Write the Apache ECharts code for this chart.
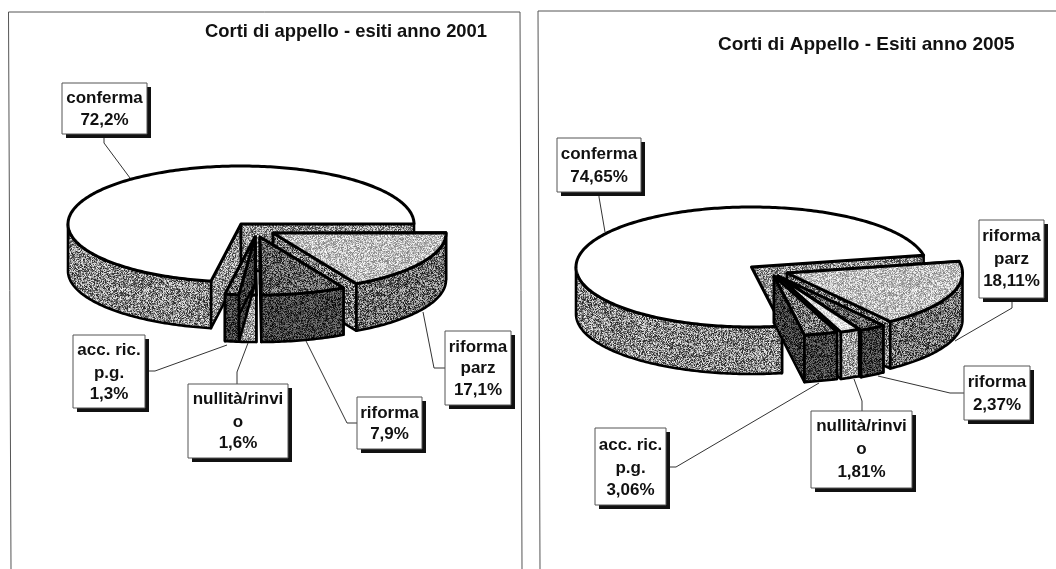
<!DOCTYPE html>
<html><head><meta charset="utf-8">
<style>html,body{margin:0;padding:0;background:#fff}#c{width:1056px;height:569px}</style>
<script src="https://cdn.jsdelivr.net/npm/echarts@6/dist/echarts.min.js"></script>
</head><body><div id="c"></div>
<script>
// ---------- data ----------
const categories = ['conferma', 'riforma parz', 'riforma', 'nullità/rinvio', 'acc. ric. p.g.'];
const values2001 = [72.2, 17.1, 7.9, 1.6, 1.3];
const values2005 = [74.65, 18.11, 2.37, 1.81, 3.06];
const labelLines = [['conferma'], ['riforma', 'parz'], ['riforma'], ['nullità/rinvi', 'o'], ['acc. ric.', 'p.g.']];
const title2001 = 'Corti di appello - esiti anno 2001';
const title2005 = 'Corti di Appello - Esiti anno 2005';

// ---------- layout ----------
const topGrey  = [255, 190, 95, 225, 115];
const sideGrey = [135, 110, 65, 160, 65];
const wallGrey = [145, 125, 75, 160, 60];
const FONT = 'bold 17px "Liberation Sans", Arial, sans-serif';

const pie2001 = {
  values: values2001, decimals: 1, startAngle: 100,
  rx: 173, ry: 58, depth: 47,
  apex: [[241, 224], [273, 233], [260, 237], [255, 237], [255, 237]],
  boxes: [[62, 83, 147, 134], [445, 331, 511, 405], [357, 397, 422, 449], [188, 384, 288, 458], [73, 335, 145, 408]],
  lineY: [[98, 120], [347, 368, 390], [413, 434], [399, 422, 443], [350, 373, 394]],
  leaders: [
    [[104, 134], [104, 143], [130, 178]],
    [[445, 368], [434, 368], [423, 312]],
    [[357, 423], [347, 423], [306, 341]],
    [[237, 384], [237, 372], [248, 343]],
    [[148, 371], [155, 371], [227, 345]]
  ]
};
const pie2005 = {
  values: values2005, decimals: 2, startAngle: 80,
  rx: 175.5, ry: 60, depth: 47,
  apex: [[751.5, 267], [787, 273], [780, 277], [778, 276], [774, 276]],
  boxes: [[557, 138, 641, 192], [979, 220, 1044, 298], [964, 366, 1030, 420], [811, 411, 912, 488], [595, 428, 666, 505]],
  lineY: [[154, 177], [236, 259, 281], [382, 405], [426, 449, 472], [445, 468, 490]],
  leaders: [
    [[599, 192], [599, 197], [605, 232]],
    [[1012, 298], [1012, 308], [955, 341]],
    [[964, 393], [950, 393], [878, 376]],
    [[862, 411], [862, 401], [854, 379]],
    [[666, 467], [676, 467], [819, 383]]
  ]
};

// deterministic fine halftone tile imitating the scanned screen
function hash(x, y) {
  let h = (x * 374761393 + y * 668265263) | 0;
  h = Math.imul(h ^ (h >>> 13), 1274126177);
  h = h ^ (h >>> 16);
  return (h >>> 0) / 4294967296;
}
const tiles = {};
function texture(g) {
  if (g >= 255) return '#ffffff';
  if (tiles[g]) return tiles[g];
  const n = 128, cv = document.createElement('canvas');
  cv.width = cv.height = n;
  const ctx = cv.getContext('2d'), im = ctx.createImageData(n, n);
  const amp = Math.min(g, 255 - g) * 0.75 + 15;
  for (let y = 0; y < n; y++) for (let x = 0; x < n; x++) {
    const v = Math.max(0, Math.min(255, g + (hash(x, y) - 0.5) * 2 * amp));
    const i = (y * n + x) * 4;
    im.data[i] = im.data[i + 1] = im.data[i + 2] = v; im.data[i + 3] = 255;
  }
  ctx.putImageData(im, 0, 0);
  return (tiles[g] = { image: cv, repeat: 'repeat' });
}

function sliceAngles(p) {
  const total = p.values.reduce((a, b) => a + b, 0);
  let a = p.startAngle;
  return p.values.map(v => { const s = a; a += v / total * 360; return [s, a]; });
}
function pt(p, i, deg, dy) {
  const r = deg * Math.PI / 180;
  return [p.apex[i][0] + p.rx * Math.cos(r), p.apex[i][1] + p.ry * Math.sin(r) + (dy || 0)];
}
function arc(p, i, a, b, dy) {
  const pts = [], n = Math.max(2, Math.ceil(Math.abs(b - a)));
  for (let k = 0; k <= n; k++) pts.push(pt(p, i, a + (b - a) * k / n, dy));
  return pts;
}
function poly(points, g, lw) {
  return { type: 'polygon', shape: { points }, style: { fill: texture(g), stroke: '#000', lineWidth: lw, lineJoin: 'round' } };
}
function renderSlice(p) {
  const ang = sliceAngles(p);
  return function (params) {
    const i = params.dataIndex, [a, b] = ang[i], c = p.apex[i], d = p.depth, kids = [];
    const wall = t => { const q = pt(p, i, t); return poly([c, q, [q[0], q[1] + d], [c[0], c[1] + d]], wallGrey[i], 2.6); };
    kids.push(wall(a), wall(b));
    // the outer rim is only seen on the front half of the ellipse
    [[0, 180], [360, 540]].forEach(([lo, hi]) => {
      const s = Math.max(a, lo), e = Math.min(b, hi);
      if (e > s) kids.push(poly(arc(p, i, s, e).concat(arc(p, i, e, s, d)), sideGrey[i], 2.6));
    });
    kids.push(poly([c].concat(arc(p, i, a, b)), topGrey[i], 3));
    return { type: 'group', children: kids };
  };
}
function labelText(p, i) {
  return labelLines[i].concat([p.values[i].toFixed(p.decimals).replace('.', ',') + '%']);
}
function renderLabel(p) {
  return function (params) {
    const i = params.dataIndex, [x0, y0, x1, y1] = p.boxes[i], kids = [];
    kids.push({ type: 'polyline', shape: { points: p.leaders[i] }, style: { fill: 'none', stroke: '#333', lineWidth: 1 } });
    kids.push({ type: 'rect', shape: { x: x0 + 4, y: y0 + 4, width: x1 - x0, height: y1 - y0 }, style: { fill: '#111' } });
    kids.push({ type: 'rect', shape: { x: x0, y: y0, width: x1 - x0, height: y1 - y0 }, style: { fill: '#fff', stroke: '#555', lineWidth: 1 } });
    labelText(p, i).forEach((t, k) => kids.push({
      type: 'text',
      style: { text: t, x: (x0 + x1) / 2, y: p.lineY[i][k], align: 'center', verticalAlign: 'middle', font: FONT, fill: '#111' }
    }));
    return { type: 'group', children: kids };
  };
}
function frameLine(pts) {
  return { type: 'polyline', shape: { points: pts }, style: { fill: 'none', stroke: '#555', lineWidth: 1 }, silent: true };
}
const rows = categories.map((c, i) => [i, c]);
function customSeries(renderItem, name) {
  return { type: 'custom', name, coordinateSystem: 'none', data: rows, renderItem, animation: false, silent: true };
}

const chart = echarts.init(document.getElementById('c'), null, { renderer: 'canvas' });
chart.setOption({
  animation: false,
  backgroundColor: '#fff',
  title: [
    { text: title2001, left: 205, top: 23, textStyle: { fontFamily: '"Liberation Sans", Arial, sans-serif', fontSize: 18.4, fontWeight: 'bold', color: '#111' }, padding: 0 },
    { text: title2005, left: 718, top: 35, textStyle: { fontFamily: '"Liberation Sans", Arial, sans-serif', fontSize: 19, fontWeight: 'bold', color: '#111' }, padding: 0 }
  ],
  graphic: [
    frameLine([[11, 569], [8.5, 12], [520, 12], [522, 569]]),
    frameLine([[540, 569], [538, 11], [1056, 11]])
  ],
  series: [
    customSeries(renderSlice(pie2001), 'esiti 2001'),
    customSeries(renderSlice(pie2005), 'esiti 2005'),
    customSeries(renderLabel(pie2001), 'etichette 2001'),
    customSeries(renderLabel(pie2005), 'etichette 2005')
  ]
});
</script></body></html>
